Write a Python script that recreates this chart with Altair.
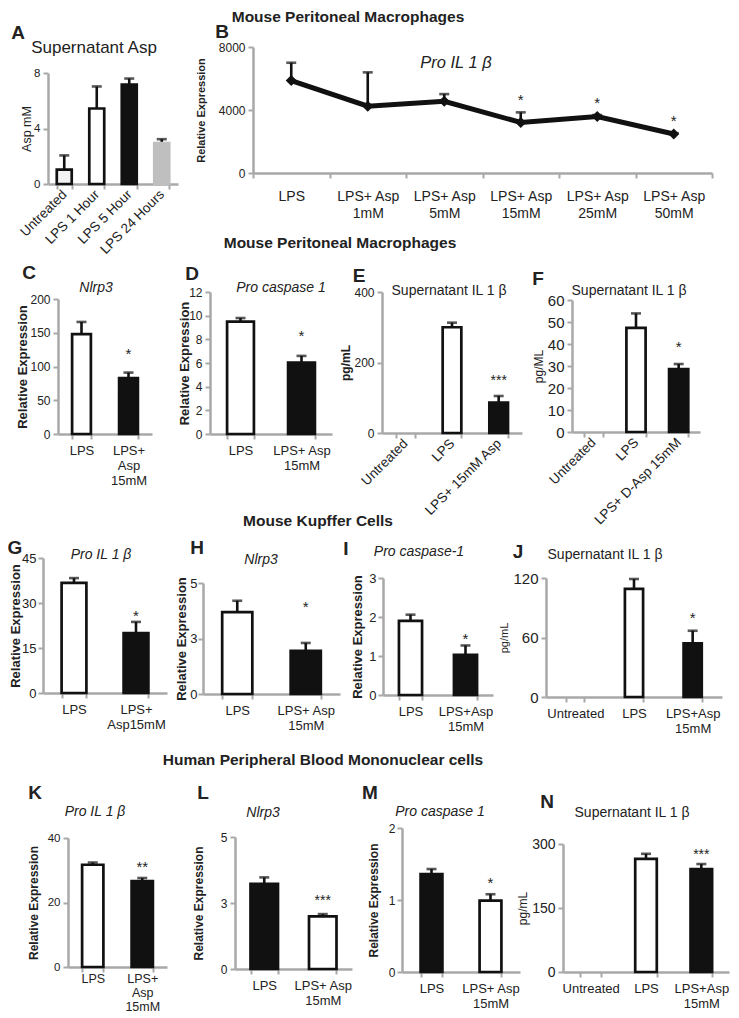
import altair as alt
import pandas as pd

FONT = "Liberation Sans"
INK = "#111111"
TXT = "#222222"
GRAY = "#a8a8a8"
OX, OY = 8, 8          # page margin -> chart origin
W, H = 723, 1004        # whole canvas

# ---------------- data ----------------
headers = ["Mouse Peritoneal Macrophages", "Mouse Peritoneal Macrophages",
           "Mouse Kupffer Cells", "Human Peripheral Blood Mononuclear cells"]
letters = ["A", "B", "C", "D", "E", "F", "G", "H", "I", "J", "K", "L", "M", "N"]
panel_titles = ["Supernatant Asp", "Pro IL 1 β", "Nlrp3", "Pro caspase 1",
                "Supernatant IL 1 β", "Supernatant IL 1 β", "Pro IL 1 β", "Nlrp3",
                "Pro caspase-1", "Supernatant IL 1 β", "Pro IL 1 β", "Nlrp3",
                "Pro caspase 1", "Supernatant IL 1 β"]

A_cats = ["Untreated", "LPS  1 Hour", "LPS  5 Hour", "LPS 24 Hours"]
A_vals = [1.03, 5.44, 7.16, 2.95]
A_errs = [2.06, 7.03, 7.60, 3.23]
A_sig = ["", "", "", ""]

B_cats = ["LPS", "LPS+ Asp\n1mM", "LPS+ Asp\n5mM", "LPS+ Asp\n15mM", "LPS+ Asp\n25mM", "LPS+ Asp\n50mM"]
B_vals = [5870, 4240, 4550, 3210, 3590, 2475]
B_errs = [7000, 6390, 5010, 3850, 3680, 2530]
B_sig = ["", "", "", "*", "*", "*"]

C_cats = ["LPS", "LPS+\nAsp\n15mM"]
C_vals = [148, 83]
C_errs = [166, 91]
C_sig = ["", "*"]

D_cats = ["LPS", "LPS+ Asp\n15mM"]
D_vals = [9.5, 6.04]
D_errs = [9.8, 6.6]
D_sig = ["", "*"]

E_cats = ["Untreated", "LPS", "LPS+ 15mM Asp"]
E_vals = [None, 300, 86]
E_errs = [None, 313, 105]
E_sig = ["", "", "***"]

F_cats = ["Untreated", "LPS", "LPS+ D-Asp 15mM"]
F_vals = [None, 47.3, 28.6]
F_errs = [None, 53.9, 30.9]
F_sig = ["", "", "*"]

G_cats = ["LPS", "LPS+\nAsp15mM"]
G_vals = [36.7, 20.0]
G_errs = [38.3, 23.7]
G_sig = ["", "*"]

H_cats = ["LPS", "LPS+ Asp\n15mM"]
H_vals = [3.69, 1.94]
H_errs = [4.2, 2.3]
H_sig = ["", "*"]

I_cats = ["LPS", "LPS+Asp\n15mM"]
I_vals = [1.9, 1.03]
I_errs = [2.06, 1.27]
I_sig = ["", "*"]

J_cats = ["Untreated", "LPS", "LPS+Asp\n15mM"]
J_vals = [None, 109, 54]
J_errs = [None, 119, 66.8]
J_sig = ["", "", "*"]

K_cats = ["LPS", "LPS+\nAsp\n15mM"]
K_vals = [31.7, 26.6]
K_errs = [32.4, 27.6]
K_sig = ["", "**"]

L_cats = ["LPS", "LPS+ Asp\n15mM"]
L_vals = [3.23, 1.99]
L_errs = [3.47, 2.08]
L_sig = ["", "***"]

M_cats = ["LPS", "LPS+ Asp\n15mM"]
M_vals = [1.36, 0.99]
M_errs = [1.43, 1.08]
M_sig = ["", "*"]

N_cats = ["Untreated", "LPS", "LPS+Asp\n15mM"]
N_vals = [None, 265, 241]
N_errs = [None, 277, 253]
N_sig = ["", "", "***"]

# ---------------- styles ----------------
WHITE, BLACK, LGRAY, OFFW = "white", INK, "#bfbfbf", "#f3f3f3"


def table(cats, vals, errs, sig, fills, strokes):
    rows = []
    for i, (c, v, e, s, f, k) in enumerate(zip(cats, vals, errs, sig, fills, strokes)):
        if v is None:
            continue
        rows.append({"idx": i, "cat": c, "val": v, "err": e, "sig": s, "fill": f, "stroke": k})
    return pd.DataFrame(rows)


def x_axis(box, size, angle=0, xpad=5, xlh=None):
    yb = box[3]
    kw = dict(orient="bottom", offset=(yb - OY) - H, title=None, labelFontSize=size,
              labelFont=FONT, labelColor=TXT, labelExpr="split(datum.label, '\\n')",
              labelLineHeight=xlh or (size + 2), tickBand="extent", tickSize=5,
              tickColor=GRAY, tickWidth=2, domainColor=GRAY, domainWidth=2.5, grid=False,
              labelOverlap=False, labelLimit=400)
    if angle:
        kw.update(labelAngle=angle, labelAlign="right", labelBaseline="middle", labelPadding=3)
    else:
        kw.update(labelAngle=0, labelAlign="center", labelBaseline="top", labelPadding=xpad)
    return alt.Axis(**kw)


def y_axis(box, ticks, fmt, title, tsize, tbold, tdist, lsize, ypad=3):
    x0 = box[0]
    return alt.Axis(orient="left", offset=-(x0 - OX), values=ticks, format=fmt, title=title,
                    titleFont=FONT, titleFontSize=tsize,
                    titleFontWeight="bold" if tbold else "normal", titleColor=TXT,
                    titleX=-tdist, titleBaseline="middle",
                    labelFontSize=lsize, labelFont=FONT, labelColor=TXT,
                    labelPadding=ypad, tickSize=5, tickColor=GRAY, tickWidth=2,
                    domainColor=GRAY, domainWidth=2.5, grid=False, labelOverlap=False,
                    labelBound=False, labelFlush=False)


def panel(d, cats, box, ydom, ytk, yfmt, ytitle, tsize, tbold, tdist, lsize, xsize,
          pad, angle=0, gap=16, ssize=15, kind="bar", xpad=5, xlh=None, ypad=3):
    x0, x1, yt, yb = box
    if kind == "bar":
        xs = alt.Scale(type="band", domain=cats, range=[x0 - OX, x1 - OX],
                       paddingInner=pad, paddingOuter=pad / 2)
    else:
        xs = alt.Scale(type="band", domain=cats, range=[x0 - OX, x1 - OX],
                       paddingInner=0, paddingOuter=0)
    ys = alt.Scale(domain=ydom, range=[yb - OY, yt - OY], nice=False, zero=True)
    xa = x_axis(box, xsize, angle, xpad, xlh)
    ya = y_axis(box, ytk, yfmt, ytitle, tsize, tbold, tdist, lsize, ypad)
    X = alt.X("cat:N", scale=xs, axis=xa)
    Xc = alt.X("cat:N", scale=xs, axis=xa, bandPosition=0.5)
    Yv = alt.Y("val:Q", scale=ys, axis=ya)
    Ye = alt.Y("err:Q", scale=ys, axis=ya)
    base = alt.Chart(d)
    rule = base.mark_rule(color=INK, strokeWidth=2.6).encode(x=Xc, y=Yv, y2="err:Q")
    cap = base.mark_tick(color=INK, thickness=2.6, size=10).encode(x=Xc, y=Ye)
    star = base.mark_text(font=FONT, fontSize=ssize, color=TXT, align="center",
                          baseline="alphabetic", dy=-(gap - 0.58 * ssize)).encode(
        x=Xc, y=Ye, text="sig:N")
    if kind == "bar":
        bars = base.mark_bar(strokeWidth=2.7).encode(
            x=X, y=Yv, fill=alt.Fill("fill:N", scale=None),
            stroke=alt.Stroke("stroke:N", scale=None))
        return alt.layer(rule, cap, bars, star)
    line = base.mark_line(color=INK, strokeWidth=5).encode(x=Xc, y=Yv, order="idx:Q")
    pts = base.mark_point(shape="diamond", filled=True, size=120, color=INK,
                          opacity=1).encode(x=Xc, y=Yv)
    return alt.layer(rule, cap, line, pts, star)


def label(s, x, y, size, weight="normal", style="normal"):
    return alt.Chart(pd.DataFrame({"t": [s]})).mark_text(
        font=FONT, fontSize=size, fontWeight=weight, fontStyle=style, align="center",
        baseline="middle", color=TXT).encode(
        x=alt.value(x - OX), y=alt.value(y - OY), text="t:N")


wk = [WHITE, BLACK]
kk = [INK, INK]
WWB = [WHITE, WHITE, BLACK]
K3 = [INK, INK, INK]
layers = []

# A
layers.append(panel(table(A_cats, A_vals, A_errs, A_sig, [OFFW, WHITE, BLACK, LGRAY],
                          [INK, INK, INK, LGRAY]), A_cats,
                    (48, 178, 73, 184), [0, 8], [0, 4, 8], "d", "Asp mM", 12.5, False, 22,
                    11.5, 13.5, 0.54, angle=315))
# B
layers.append(panel(table(B_cats, B_vals, B_errs, B_sig, [INK] * 6, [INK] * 6), B_cats,
                    (253, 712, 47, 173), [0, 8000], [0, 4000, 8000], "d",
                    "Relative Expression", 11, True, 52, 12, 14, 0, gap=16, kind="line",
                    xpad=11, xlh=17))
# C
layers.append(panel(table(C_cats, C_vals, C_errs, C_sig, wk, kk), C_cats,
                    (58, 152, 299, 434), [0, 200], [0, 50, 100, 150, 200], "d",
                    "Relative Expression", 13, True, 36, 12, 13, 0.6, gap=22))
# D
layers.append(panel(table(D_cats, D_vals, D_errs, D_sig, wk, kk), D_cats,
                    (210, 332, 292, 434), [0, 12], [0, 2, 4, 6, 8, 10, 12], "d",
                    "Relative Expression", 13, True, 26, 12, 13, 0.56, gap=24))
# E
layers.append(panel(table(E_cats, E_vals, E_errs, E_sig, WWB, K3), E_cats,
                    (382, 522, 292, 433), [0, 400], [0, 200, 400], "d",
                    "pg/mL", 12, True, 37, 12, 13.5, 0.6, angle=315, gap=19, ssize=14))
# F
layers.append(panel(table(F_cats, F_vals, F_errs, F_sig, WWB, K3), F_cats,
                    (572, 700, 300, 432), [0, 60], [0, 10, 20, 30, 40, 50, 60], "d",
                    "pg/ML", 12, False, 34, 15, 13.5, 0.55, angle=315, gap=21))
# G
layers.append(panel(table(G_cats, G_vals, G_errs, G_sig, wk, kk), G_cats,
                    (43, 167, 558, 693), [0, 45], [0, 15, 30, 45], "d",
                    "Relative Expression", 13, True, 28, 13, 13, 0.6, gap=10, ypad=2))
# H
layers.append(panel(table(H_cats, H_vals, H_errs, H_sig, wk, kk), H_cats,
                    (203, 340, 583, 694), [0, 5], [0, 2.5, 5], ".0f",
                    "Relative Expression", 13, True, 22, 13, 13, 0.56, gap=40, ypad=1))
# I
layers.append(panel(table(I_cats, I_vals, I_errs, I_sig, wk, kk), I_cats,
                    (383, 493, 578, 695), [0, 3], [0, 1, 2, 3], "d",
                    "Relative Expression", 13, True, 26, 13, 13, 0.58, gap=10, ypad=2))
# J
layers.append(panel(table(J_cats, J_vals, J_errs, J_sig, WWB, K3), J_cats,
                    (546, 722, 578, 697), [0, 120], [0, 60, 120], "d",
                    "pg/mL", 11, False, 42, 15, 13, 0.69, gap=16))
# K
layers.append(panel(table(K_cats, K_vals, K_errs, K_sig, wk, kk), K_cats,
                    (68, 167, 838, 967), [0, 40], [0, 20, 40], "d",
                    "Relative Expression", 12, True, 35, 11.5, 12.5, 0.57, gap=15,
                    xpad=0, xlh=14))
# L
layers.append(panel(table(L_cats, L_vals, L_errs, L_sig, [BLACK, WHITE], kk), L_cats,
                    (235, 352, 837, 969), [0, 5], [0, 2.5, 5], ".0f",
                    "Relative Expression", 12, True, 37, 12, 13, 0.53, gap=17, ssize=14))
# M
layers.append(panel(table(M_cats, M_vals, M_errs, M_sig, [BLACK, WHITE], kk), M_cats,
                    (402, 520, 828, 972), [0.0, 2.0], [0.0, 1.0, 2.0], ".0f",
                    "Relative Expression", 12, True, 29, 12, 13, 0.63, gap=15, ypad=2))
# N
layers.append(panel(table(N_cats, N_vals, N_errs, N_sig, WWB, K3), N_cats,
                    (563, 729, 844, 972), [0, 300], [0, 150, 300], "d",
                    "pg/mL", 12, False, 41, 14, 13, 0.61, gap=13, ssize=14))

# section headers
for s, (x, y) in zip(headers, [(348, 17), (340, 243), (318, 521), (323, 760)]):
    layers.append(label(s, x, y, 15.5, weight="bold"))

# panel letters
letter_pos = [(18, 33), (222, 32), (29, 273), (192, 274), (359, 276), (538, 279),
              (15, 548), (197, 548), (346, 549), (518, 552), (35, 793), (203, 793),
              (370, 793), (547, 802)]
for s, (x, y) in zip(letters, letter_pos):
    layers.append(label(s, x, y, 19, weight="bold"))

# panel titles
title_pos = [(94, 48, 17, "normal"), (456, 63, 16.5, "italic"), (96, 288, 14, "italic"),
             (281, 288, 14, "italic"), (449, 291, 14, "normal"), (629, 291, 14, "normal"),
             (101, 555, 14, "italic"), (261, 560, 14, "italic"), (419, 552, 14, "italic"),
             (605, 555, 14, "normal"), (95, 812, 14, "italic"), (263, 813, 14, "italic"),
             (440, 812, 14, "italic"), (632, 813, 14, "normal")]
for s, (x, y, sz, st) in zip(panel_titles, title_pos):
    layers.append(label(s, x, y, sz, style=st))

chart = alt.layer(*layers).resolve_scale(x="independent", y="independent").properties(
    width=W, height=H, padding=0,
    autosize=alt.AutoSizeParams(type="none")
).configure_view(stroke=None)

chart.save("out.html", embed_options={"renderer": "svg", "actions": False})
